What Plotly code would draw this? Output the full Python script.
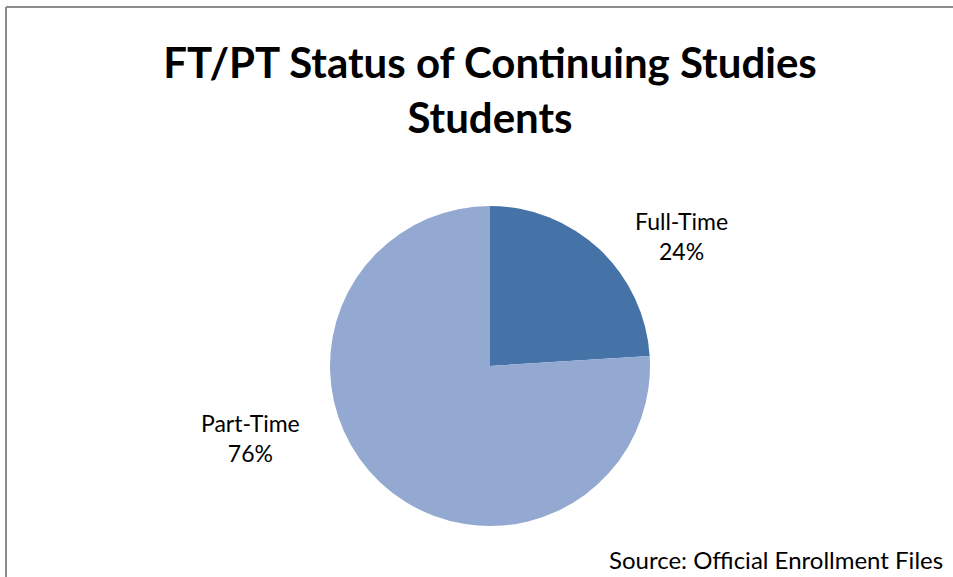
import plotly.graph_objects as go

labels = ["Full-Time", "Part-Time"]
values = [24, 76]
colors = ["#4572A7", "#94A9D1"]
title_text = "FT/PT Status of Continuing Studies<br>Students"
source_text = "Source: Official Enrollment Files"

W, H = 953, 577
total = sum(values)
pct = [round(v / total * 100) for v in values]

fig = go.Figure(go.Pie(
    labels=labels,
    values=values,
    sort=False,
    direction="clockwise",
    rotation=0,
    marker=dict(colors=colors, line=dict(width=0)),
    textinfo="none",
    hoverinfo="label+percent",
    showlegend=False,
    domain=dict(x=[330 / W, 650 / W], y=[1 - 526 / H, 1 - 206 / H]),
))

label_pos = [(681, 236), (251, 438)]
for (lx, ly), lab, p in zip(label_pos, labels, pct):
    fig.add_annotation(x=lx / W, y=1 - ly / H, xref="paper", yref="paper",
                       text=f"{lab}<br>{p}%", showarrow=False,
                       font=dict(family="Lato", size=23, color="#000000"),
                       xanchor="center", yanchor="middle", align="center")

fig.add_annotation(x=945 / W, y=1 - 559 / H, xref="paper", yref="paper",
                   text=source_text, showarrow=False,
                   font=dict(family="Lato", size=24, color="#000000"),
                   xanchor="right", yanchor="middle")

fig.add_shape(type="line", xref="paper", yref="paper",
              x0=6 / W, x1=6 / W, y0=0, y1=1 - 7 / H,
              line=dict(color="#8c8c8c", width=2))
fig.add_shape(type="line", xref="paper", yref="paper",
              x0=6 / W, x1=1, y0=1 - 7 / H, y1=1 - 7 / H,
              line=dict(color="#8c8c8c", width=2))

fig.update_layout(
    width=W, height=H,
    margin=dict(l=0, r=0, t=0, b=0),
    paper_bgcolor="white",
    title=dict(text=title_text, x=490 / W, xanchor="center",
               y=1 - 78 / H, yanchor="middle",
               font=dict(family="Lato", size=42, color="#000000", weight="bold")),
)

fig.write_html("out.html", config={"displayModeBar": False},
               post_script="document.body.style.margin='0';")
